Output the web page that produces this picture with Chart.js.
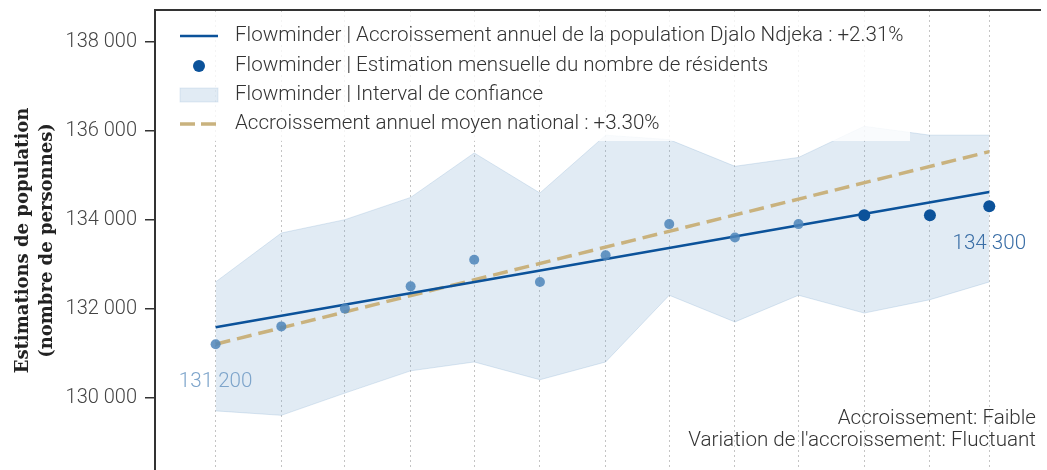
<!DOCTYPE html>
<html>
<head>
<meta charset="utf-8">
<script src="https://cdn.jsdelivr.net/npm/chart.js@4.4.1/dist/chart.umd.min.js"></script>
<style>
html,body{margin:0;padding:0;background:#fff;overflow:hidden;}
#wrap{width:1047px;height:477px;position:relative;}
</style>
</head>
<body>
<div id="wrap"><canvas id="c"></canvas></div>
<script>
// ---- data ----
const dates = ["2020-03-01","2020-04-01","2020-05-01","2020-06-01","2020-07-01","2020-08-01","2020-09-01","2020-10-01","2020-11-01","2020-12-01","2021-01-01","2021-02-01","2021-03-01"];
const estimates = [131200,131600,132000,132500,133100,132600,133200,133900,133600,133900,134100,134100,134300];
const ciLower = [129700,129600,130100,130600,130800,130400,130800,132300,131700,132300,131900,132200,132600];
const ciUpper = [132600,133700,134000,134500,135500,134600,135900,135800,135200,135400,136100,135900,135900];
const trendLocal = [131580,134620];     // first & last dates
const trendNational = [131200,135530];  // first & last dates
const yTicks = [130000,132000,134000,136000,138000];
const legendLabels = [
  "Flowminder | Accroissement annuel de la population Djalo Ndjeka : +2.31%",
  "Flowminder | Estimation mensuelle du nombre de résidents",
  "Flowminder | Interval de confiance",
  "Accroissement annuel moyen national : +3.30%"
];
const notes = ["Accroissement: Faible","Variation de l'accroissement: Fluctuant"];
const yTitle = ["Estimations de population","(nombre de personnes)"];

// ---- helpers ----
const DAY = 86400000;
const t0 = Date.parse(dates[0]);
const xs = dates.map(d => (Date.parse(d) - t0) / DAY);
const fmt = v => String(Math.round(v)).replace(/\B(?=(\d{3})+(?!\d))/g, ' ');

const C_DARK = '#0b529a';
const C_LIGHT = 'rgba(78,133,186,0.85)';
const C_TAN = '#c9b27e';
const C_BAND = 'rgba(120,165,205,0.22)';
const C_BAND_LINE = 'rgba(120,165,205,0.25)';
const nLight = 10;
const ptColors = estimates.map((v,i) => i < nLight ? C_LIGHT : C_DARK);
const ptRadius = estimates.map((v,i) => i < nLight ? 5 : 6);

const lastIdx = dates.length - 1;

const overlayPlugin = {
  id: 'overlay',
  afterDatasetsDraw(chart) {
    const ctx = chart.ctx;
    const ca = chart.chartArea;
    // top border
    ctx.save();
    ctx.strokeStyle = '#333';
    ctx.lineWidth = 2;
    ctx.beginPath();
    ctx.moveTo(ca.left, ca.top);
    ctx.lineTo(ca.right, ca.top);
    ctx.stroke();

    // point value labels
    const meta = chart.getDatasetMeta(4);
    const p0 = meta.data[0], pN = meta.data[lastIdx];
    ctx.font = '300 20.6px Roboto';
    ctx.textAlign = 'center';
    ctx.textBaseline = 'middle';
    ctx.fillStyle = '#7ea5cb';
    ctx.fillText(fmt(estimates[0]), p0.x, p0.y + 38);
    ctx.fillStyle = '#3a6ea6';
    ctx.fillText(fmt(estimates[lastIdx]), pN.x, pN.y + 38);

    // legend box
    ctx.fillStyle = 'rgba(255,255,255,0.82)';
    ctx.fillRect(ca.left + 10, ca.top + 4, 745, 127);
    const lx0 = 180, lx1 = 218, tx = 235;
    const rows = [36, 66, 95, 124];
    // row 1: solid line
    ctx.strokeStyle = C_DARK; ctx.lineWidth = 2.5; ctx.setLineDash([]);
    ctx.beginPath(); ctx.moveTo(lx0, rows[0]); ctx.lineTo(lx1, rows[0]); ctx.stroke();
    // row 2: dot
    ctx.fillStyle = C_DARK;
    ctx.beginPath(); ctx.arc((lx0+lx1)/2, rows[1], 6, 0, Math.PI*2); ctx.fill();
    // row 3: band rect
    ctx.fillStyle = 'rgba(120,165,205,0.22)';
    ctx.fillRect(lx0, rows[2]-7, lx1-lx0, 14);
    ctx.strokeStyle = 'rgba(120,165,205,0.2)'; ctx.lineWidth = 1;
    ctx.strokeRect(lx0, rows[2]-7, lx1-lx0, 14);
    // row 4: dashed
    ctx.strokeStyle = C_TAN; ctx.lineWidth = 3.5; ctx.setLineDash([15,6]);
    ctx.beginPath(); ctx.moveTo(lx0, rows[3]); ctx.lineTo(lx1+2, rows[3]); ctx.stroke();
    ctx.setLineDash([]);
    ctx.fillStyle = '#333';
    ctx.textAlign = 'left';
    ctx.font = '300 20.6px Roboto';
    legendLabels.forEach((t,i) => ctx.fillText(t, tx, rows[i]));

    // notes
    ctx.textAlign = 'right';
    ctx.fillStyle = '#333';
    ctx.fillText(notes[0], 1036, 419);
    ctx.fillText(notes[1], 1036, 441);
    ctx.restore();
  }
};

const xMin = -28.6, xMax = 389.4;

new Chart(document.getElementById('c'), {
  type: 'line',
  data: {
    datasets: [
      { label: 'ciLower', data: xs.map((x,i)=>({x, y: ciLower[i]})), borderColor: C_BAND_LINE, borderWidth: 1, pointRadius: 0, fill: false, order: 3 },
      { label: legendLabels[2], data: xs.map((x,i)=>({x, y: ciUpper[i]})), borderColor: C_BAND_LINE, borderWidth: 1, pointRadius: 0, backgroundColor: C_BAND, fill: '-1', order: 3 },
      { label: legendLabels[3], data: [{x: xs[0], y: trendNational[0]}, {x: xs[lastIdx], y: trendNational[1]}], borderColor: C_TAN, borderWidth: 3.5, borderDash: [15,7], pointRadius: 0, fill: false, order: 2 },
      { label: legendLabels[0], data: [{x: xs[0], y: trendLocal[0]}, {x: xs[lastIdx], y: trendLocal[1]}], borderColor: C_DARK, borderWidth: 2.5, pointRadius: 0, fill: false, order: 1 },
      { label: legendLabels[1], data: xs.map((x,i)=>({x, y: estimates[i]})), showLine: false, pointRadius: ptRadius, pointBackgroundColor: ptColors, pointBorderWidth: 0, pointBorderColor: ptColors, order: 0 }
    ]
  },
  options: {
    responsive: true,
    maintainAspectRatio: false,
    animation: false,
    layout: { padding: { top: 10, right: 0, bottom: 0, left: 0 } },
    plugins: { legend: { display: false }, tooltip: { enabled: false } },
    scales: {
      x: {
        type: 'linear', min: xMin, max: xMax,
        afterBuildTicks: s => { s.ticks = xs.map(v => ({ value: v })); },
        afterFit: s => { s.height = 0; s.paddingLeft = 0; s.paddingRight = 0; s.paddingTop = 0; s.paddingBottom = 0; },
        ticks: { display: false },
        grid: { color: '#c4c4c4', lineWidth: 1, borderDash: [2,3], drawTicks: false },
        border: { display: false, dash: [2,3] }
      },
      y: {
        min: 128348, max: 138715,
        afterBuildTicks: s => { s.ticks = yTicks.map(v => ({ value: v })); },
        afterFit: s => { s.width = 155; s.paddingTop = 0; s.paddingBottom = 0; s.paddingLeft = 0; s.paddingRight = 0; },
        ticks: { padding: 8, color: '#444', font: { family: 'Roboto', weight: '300', size: 20 }, callback: v => fmt(v) },
        grid: { drawOnChartArea: false, drawTicks: true, tickLength: 10, color: '#333', lineWidth: 1.5 },
        border: { display: true, color: '#333', width: 2 },
        title: { display: true, text: yTitle, color: '#222', font: { family: 'DejaVu Serif', weight: 'bold', size: 18, lineHeight: 1.35 }, padding: { top: 11, bottom: 0 } }
      }
    }
  },
  plugins: [overlayPlugin]
});
</script>
</body>
</html>
